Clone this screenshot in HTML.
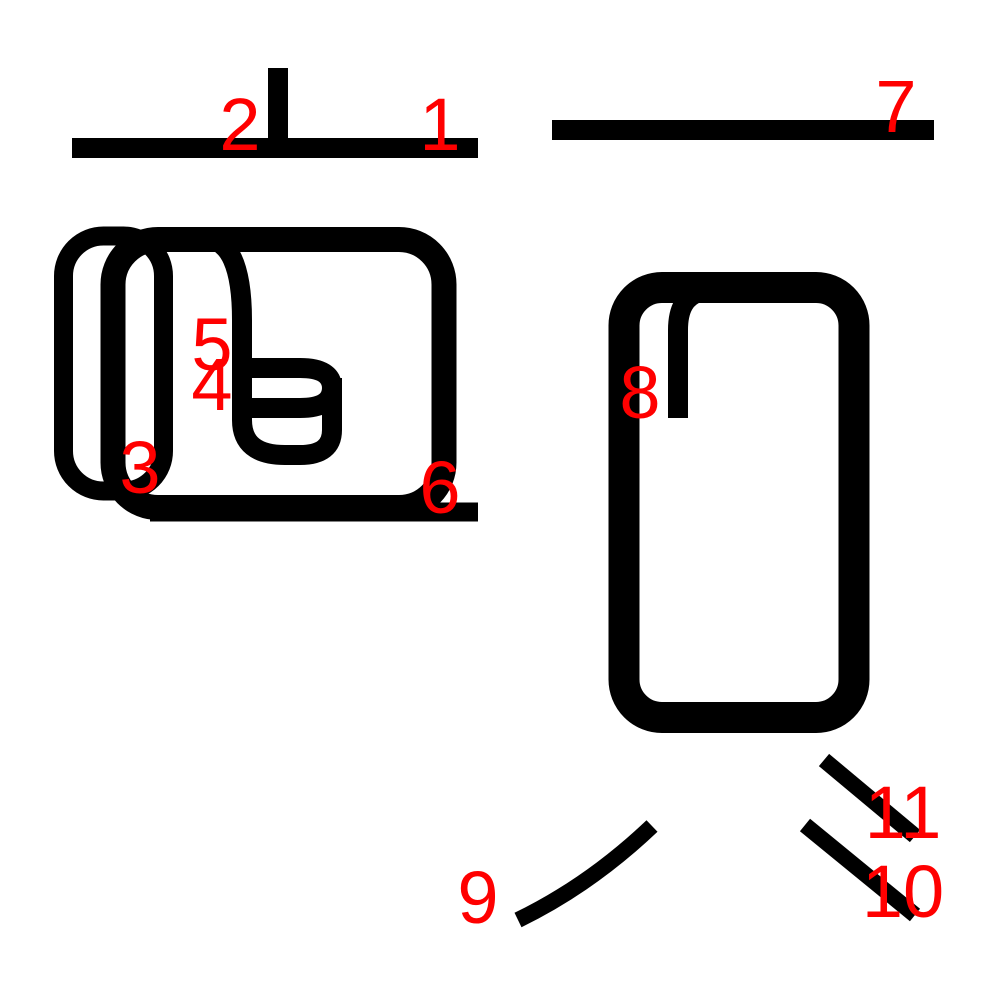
<!DOCTYPE html>
<html><head><meta charset="utf-8"><style>html,body{margin:0;background:#fff}svg{display:block}text{font-family:"Liberation Sans",sans-serif;font-size:74px;fill:#f00;text-anchor:middle}</style></head>
<body>
<svg width="1000" height="1000" viewBox="0 0 1000 1000">
<g fill="none" stroke="#000">
<line x1="72" y1="148" x2="478" y2="148" stroke-width="20"/>
<line x1="278" y1="68" x2="278" y2="146" stroke-width="20"/>
<rect x="63.5" y="236" width="100" height="255" rx="40" stroke-width="19"/>
<path d="M205 238 Q242 240 242 320 V420 Q242 455 285 455 H300 Q332 455 332 430 V378 M252 368 H300 Q332 368 332 388 Q332 408 300 408 H252" stroke-width="20"/>
<rect x="113" y="239.5" width="331" height="268" rx="45" stroke-width="25"/>
<line x1="150" y1="512" x2="478" y2="512" stroke-width="19"/>
<line x1="552" y1="130" x2="934" y2="130" stroke-width="20"/>
<rect x="624" y="287.5" width="230" height="430" rx="38" stroke-width="31"/>
<path d="M678 418 V330 Q678 298 700 292" stroke-width="20"/>
<path d="M518 920 Q590 885 652 826" stroke-width="16"/>
<line x1="805" y1="825" x2="915" y2="915" stroke-width="16"/>
<line x1="824" y1="760" x2="915" y2="836" stroke-width="16"/>
</g>
<text x="440" y="150">1</text>
<text x="240" y="150">2</text>
<text x="140" y="493">3</text>
<text x="212" y="410">4</text>
<text x="212" y="370">5</text>
<text x="440" y="513">6</text>
<text x="896" y="132">7</text>
<text x="640" y="418">8</text>
<text x="478" y="923">9</text>
<text x="903" y="917">10</text>
<text x="903" y="838">11</text>
</svg>
</body></html>
